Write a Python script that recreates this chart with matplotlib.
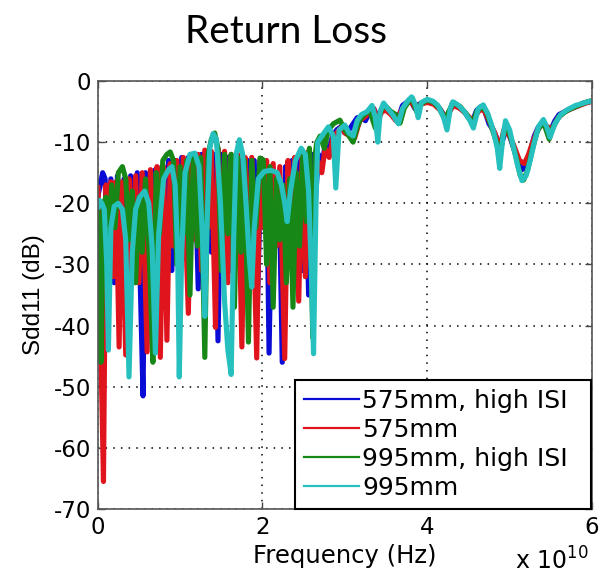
import matplotlib
matplotlib.use("Agg")
import matplotlib.pyplot as plt
from matplotlib.lines import Line2D
import numpy as np

plt.rcParams["axes.unicode_minus"] = False

# frequency in units of 1e10 Hz, Sdd11 in dB, as (f, dB) pairs
blue_pts = [
    (0.00, -19), (0.03, -17), (0.06, -15), (0.09, -16), (0.12, -28), (0.16, -16),
    (0.20, -33), (0.24, -15.5), (0.28, -25), (0.32, -16), (0.36, -31), (0.40, -15.5),
    (0.44, -27), (0.48, -15), (0.52, -35), (0.55, -51.5), (0.58, -15), (0.62, -29),
    (0.66, -15), (0.70, -14.5), (0.74, -32), (0.78, -14), (0.82, -27), (0.86, -13),
    (0.90, -31), (0.94, -13), (0.98, -24), (1.02, -12.5), (1.06, -29), (1.10, -12.5),
    (1.14, -21), (1.18, -12.5), (1.22, -34), (1.26, -12), (1.30, -23), (1.34, -12),
    (1.38, -28), (1.42, -12), (1.46, -42.5), (1.50, -12), (1.54, -25), (1.58, -12.5),
    (1.62, -31), (1.66, -12.5), (1.70, -22), (1.74, -13), (1.78, -34), (1.82, -13),
    (1.86, -27), (1.90, -13), (1.94, -36), (1.98, -14), (2.02, -22), (2.05, -14),
    (2.08, -44.5), (2.12, -14), (2.16, -26), (2.20, -15), (2.24, -46), (2.28, -14),
    (2.32, -30), (2.36, -13), (2.40, -25), (2.44, -12.5), (2.48, -31), (2.52, -12),
    (2.56, -35), (2.60, -12), (2.64, -20),
    (2.68, -12), (2.72, -14), (2.76, -10.5), (2.80, -12), (2.85, -9), (2.90, -8),
    (2.95, -7.5), (3.00, -8.5), (3.05, -8), (3.10, -7), (3.15, -6), (3.20, -6),
    (3.25, -6.5), (3.30, -5), (3.35, -4.5), (3.40, -6), (3.45, -4.5), (3.50, -4.5),
    (3.55, -5), (3.60, -5.5), (3.65, -6), (3.70, -4), (3.75, -3.5), (3.80, -3.2),
    (3.85, -4.5), (3.90, -3.8), (3.95, -3.5), (4.00, -3.3), (4.05, -3.6), (4.10, -3.8),
    (4.15, -4.5), (4.20, -5.5), (4.25, -6), (4.30, -3.8), (4.35, -4), (4.40, -4.5),
    (4.45, -5), (4.50, -6), (4.55, -6.5), (4.60, -4.8), (4.65, -4.2), (4.70, -5),
    (4.75, -7), (4.80, -8), (4.85, -9.5), (4.90, -10.5), (4.95, -8), (5.00, -9),
    (5.05, -11), (5.10, -13), (5.15, -14.5), (5.20, -14), (5.25, -11.5), (5.30, -9),
    (5.35, -7.5), (5.40, -7), (5.45, -7.5), (5.50, -8), (5.55, -6.5), (5.60, -5.5),
    (5.70, -4.8), (5.80, -4.2), (5.90, -3.6), (6.00, -3.3),
]

red_pts = [
    (0.00, -17), (0.02, -22), (0.04, -45), (0.07, -65.5), (0.10, -17), (0.13, -24),
    (0.16, -16.5), (0.19, -32), (0.22, -16.5), (0.26, -43.5), (0.29, -16.5), (0.34, -44.8),
    (0.38, -16), (0.42, -28), (0.46, -15.5), (0.50, -33), (0.54, -15), (0.60, -44.3),
    (0.64, -14.5), (0.68, -30), (0.72, -14), (0.76, -45.2), (0.80, -14), (0.84, -42.4),
    (0.88, -13.5), (0.92, -27), (0.96, -13), (1.00, -33), (1.04, -12.5), (1.10, -38),
    (1.14, -12.5), (1.18, -26), (1.22, -12), (1.26, -31), (1.30, -11.3), (1.34, -24),
    (1.38, -11.5), (1.43, -40.3), (1.46, -11), (1.50, -28), (1.54, -11.5), (1.58, -33),
    (1.62, -12), (1.66, -22), (1.70, -12), (1.75, -43.5), (1.79, -12.5), (1.83, -29),
    (1.87, -12.5), (1.93, -45.3), (1.97, -13), (2.01, -24), (2.05, -13), (2.09, -33),
    (2.13, -13.5), (2.17, -27), (2.21, -14), (2.27, -45.4), (2.31, -13), (2.35, -28),
    (2.39, -12.5), (2.44, -36), (2.48, -12), (2.52, -32), (2.56, -11.5), (2.60, -30),
    (2.64, -15),
    (2.68, -13.3), (2.72, -15), (2.76, -11), (2.81, -12.5), (2.86, -9), (2.90, -8.5),
    (2.96, -7.5), (3.00, -8.5), (3.06, -9), (3.12, -9.3), (3.18, -6.5), (3.25, -5.8),
    (3.30, -5), (3.35, -4.5), (3.40, -6.5), (3.45, -5), (3.50, -4.8), (3.56, -5.5),
    (3.62, -6.5), (3.68, -5), (3.74, -3.8), (3.80, -3.3), (3.86, -4.5), (3.92, -3.8),
    (4.00, -3.5), (4.08, -3.8), (4.16, -4.8), (4.22, -6), (4.27, -5), (4.32, -4),
    (4.40, -4.5), (4.48, -5.5), (4.55, -6.5), (4.62, -5), (4.68, -4.5), (4.75, -6.5),
    (4.82, -8.5), (4.88, -11), (4.93, -8), (4.98, -8.5), (5.05, -10.5), (5.12, -13),
    (5.18, -13.5), (5.23, -12), (5.28, -10), (5.34, -8), (5.40, -7), (5.46, -7.5),
    (5.52, -7.8), (5.58, -6.2), (5.65, -5.2), (5.75, -4.5), (5.85, -4), (5.95, -3.5),
    (6.00, -3.3),
]

green_pts = [
    (0.00, -20), (0.02, -30), (0.04, -46), (0.07, -20), (0.10, -19), (0.13, -27),
    (0.17, -17), (0.21, -24), (0.25, -15), (0.30, -14), (0.34, -16), (0.38, -26),
    (0.42, -18), (0.46, -33), (0.50, -19), (0.54, -28), (0.58, -16), (0.63, -30),
    (0.67, -46), (0.71, -15), (0.75, -25), (0.79, -13), (0.84, -12), (0.88, -11.6),
    (0.92, -13), (0.96, -30), (1.00, -14), (1.04, -25), (1.08, -13), (1.12, -35),
    (1.16, -12.5), (1.21, -27), (1.25, -12.5), (1.30, -45.2), (1.34, -12), (1.38, -9.5),
    (1.42, -8.5), (1.46, -11), (1.50, -31), (1.54, -12), (1.58, -25), (1.62, -12),
    (1.66, -37), (1.70, -12.5), (1.74, -28), (1.78, -13), (1.83, -42.7), (1.87, -13),
    (1.92, -24), (1.97, -12.6), (2.01, -12.9), (2.05, -30), (2.09, -14), (2.13, -37),
    (2.17, -16), (2.21, -26), (2.25, -17), (2.29, -33), (2.33, -16), (2.37, -37),
    (2.41, -15), (2.45, -27), (2.49, -12), (2.53, -23), (2.57, -11), (2.61, -42),
    (2.64, -12),
    (2.66, -10), (2.70, -9), (2.75, -11), (2.80, -8), (2.86, -7), (2.94, -6.4),
    (3.00, -8), (3.05, -9), (3.10, -10), (3.15, -7.5), (3.20, -6), (3.25, -5.3),
    (3.30, -4.8), (3.37, -7.7), (3.45, -4.4), (3.50, -4.2), (3.56, -5), (3.62, -5.5),
    (3.67, -6.9), (3.72, -4.5), (3.78, -3.2), (3.82, -2.8), (3.87, -5), (3.92, -3.8),
    (4.00, -3.1), (4.08, -3.5), (4.15, -4.5), (4.22, -6.5), (4.26, -5), (4.32, -3.5),
    (4.40, -4.2), (4.48, -5.5), (4.55, -7), (4.60, -5), (4.66, -4.2), (4.72, -5),
    (4.78, -7.5), (4.84, -10), (4.88, -12.5), (4.92, -9), (4.96, -7), (5.02, -9.5),
    (5.08, -12.5), (5.13, -15.5), (5.17, -16.2), (5.22, -14.5), (5.27, -11.5), (5.33, -8.5),
    (5.38, -7), (5.43, -7.5), (5.48, -9.5), (5.53, -7.5), (5.60, -5.8), (5.70, -4.8),
    (5.80, -4.2), (5.90, -3.6), (6.00, -3.2),
]

cyan_pts = [
    (0.00, -21), (0.02, -19.5), (0.05, -20), (0.08, -21), (0.11, -30), (0.13, -44),
    (0.16, -24), (0.20, -20.5), (0.25, -20), (0.30, -21), (0.34, -26), (0.38, -48.4),
    (0.42, -28), (0.46, -21), (0.51, -19), (0.57, -18), (0.62, -20), (0.66, -27),
    (0.70, -44.5), (0.74, -25), (0.80, -16), (0.86, -14.5), (0.90, -14), (0.94, -17),
    (0.97, -28), (0.99, -48.4), (1.02, -28), (1.06, -15), (1.12, -12), (1.18, -11.8),
    (1.23, -14), (1.27, -25), (1.30, -38.5), (1.33, -22), (1.36, -11), (1.40, -8.6),
    (1.44, -9.5), (1.49, -20), (1.54, -36), (1.58, -44), (1.62, -48), (1.65, -26),
    (1.68, -12), (1.72, -9.6), (1.76, -12), (1.80, -20), (1.84, -29), (1.87, -33.7),
    (1.90, -24), (1.95, -16), (2.02, -14.8), (2.10, -14.6), (2.18, -15), (2.23, -17),
    (2.27, -20), (2.30, -23), (2.34, -18), (2.40, -13), (2.47, -11), (2.52, -12),
    (2.56, -18), (2.59, -30), (2.62, -44.6), (2.65, -20),
    (2.67, -10), (2.72, -9), (2.80, -7.5), (2.86, -9), (2.89, -17.5), (2.93, -8),
    (3.00, -7.2), (3.05, -8.5), (3.10, -9), (3.15, -6.5), (3.20, -5.5), (3.27, -5),
    (3.33, -4), (3.37, -6), (3.40, -10), (3.43, -5), (3.47, -3.6), (3.52, -4.5),
    (3.58, -5.5), (3.65, -7), (3.70, -4.5), (3.76, -3.3), (3.81, -2.6), (3.86, -4),
    (3.89, -6), (3.93, -3.5), (4.00, -3), (4.07, -3.3), (4.13, -4), (4.20, -6),
    (4.24, -8), (4.28, -4.5), (4.31, -3.4), (4.38, -4), (4.45, -5), (4.52, -6.5),
    (4.56, -7.7), (4.62, -4.5), (4.68, -3.9), (4.74, -5.5), (4.80, -8), (4.85, -11),
    (4.88, -14.3), (4.92, -9), (4.95, -6.5), (5.00, -8), (5.05, -11), (5.10, -14),
    (5.15, -16.3), (5.20, -15.5), (5.25, -13), (5.30, -10), (5.35, -7.5), (5.41, -6.3),
    (5.45, -7.5), (5.49, -9.2), (5.55, -7), (5.62, -5.5), (5.70, -4.7), (5.80, -4),
    (5.90, -3.6), (5.97, -3.3), (6.00, -3.4),
]

labels = ["575mm, high ISI", "575mm", "995mm, high ISI", "995mm"]
colors = ["#0b0bd6", "#e0141c", "#178717", "#26c1bf"]
series = [blue_pts, red_pts, green_pts, cyan_pts]

fig = plt.figure(figsize=(6.05, 5.79), dpi=100)
ax = fig.add_axes([0.1615, 0.1209, 0.817, 0.7392])

for pts, c in zip(series, colors):
    f, db = np.array(pts).T
    ax.plot(f, db, color=c, lw=3.7, solid_joinstyle="round",
            solid_capstyle="butt")

ax.set_xlim(0, 6)
ax.set_ylim(-70, 0)
ax.set_xticks([0, 2, 4, 6])
ax.set_yticks(np.arange(-70, 1, 10))
ax.grid(True, color="black", linestyle=(0, (1, 4)), linewidth=1.1)
ax.tick_params(direction="in", top=True, right=True, length=5, width=1,
               labelsize=16.5, pad=5, color="#444444")
for lab in ax.get_xticklabels() + ax.get_yticklabels():
    lab.set_family("DejaVu Sans")
for s in ax.spines.values():
    s.set_color("#555555")
    s.set_linewidth(1.2)

ax.set_xlabel("Frequency (Hz)", fontsize=17.5, family="DejaVu Sans", labelpad=4)
ax.set_ylabel("Sdd11 (dB)", fontsize=17.5, family="Liberation Sans", labelpad=6)

fig.text(515 / 605, (579 - 570) / 579, r"x 10$^{10}$", fontsize=17,
         family="DejaVu Sans", ha="left", va="baseline")

fig.text(0.473, 1 - 43 / 579, "Return Loss", fontsize=28, family="Lato",
         ha="center", va="baseline")

# legend box stretched over the lower right part of the axes
handles = [Line2D([], [], color=c, lw=1.6) for c in colors]
leg = ax.legend(handles, labels, loc="lower left", mode="expand",
                bbox_to_anchor=(0.399, 0.0, 0.599, 0.3), borderaxespad=0,
                fancybox=False, framealpha=1, edgecolor="black",
                prop={"family": "DejaVu Sans", "size": 18},
                handlelength=2.2, handletextpad=0.15, labelspacing=0.2,
                borderpad=0.35)
leg.get_frame().set_linewidth(1.5)

fig.savefig("out.png", dpi=100)
